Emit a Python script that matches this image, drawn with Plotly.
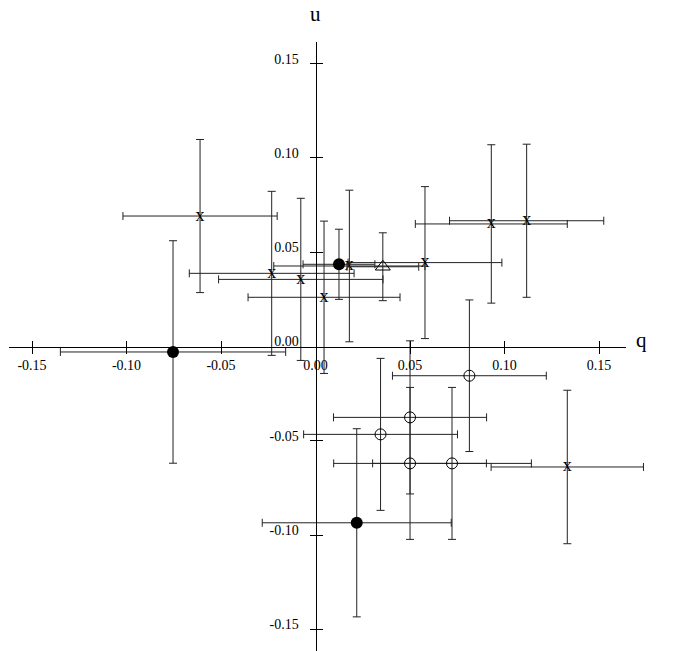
import plotly.graph_objects as go

# ---- data (q, u, error q, error u) ----
x_q  = [-0.0611, -0.0232, -0.0078, 0.0045, 0.0179, 0.0579, 0.0930, 0.1117, 0.1332]
x_u  = [0.0692, 0.0388, 0.0356, 0.0261, 0.0427, 0.0445, 0.0650, 0.0667, -0.0639]
x_dq = [0.0408, 0.0436, 0.0435, 0.0402, 0.0400, 0.0407, 0.0402, 0.0408, 0.0403]
x_du = [0.0406, 0.0435, 0.0430, 0.0404, 0.0402, 0.0403, 0.0420, 0.0406, 0.0407]

fc_q  = [-0.0754, 0.0124, 0.0218]
fc_u  = [-0.0029, 0.0436, -0.0935]
fc_dq = [0.0596, 0.0190, 0.0500]
fc_du = [0.0590, 0.0186, 0.0499]

oc_q  = [0.0814, 0.0500, 0.0344, 0.0500, 0.0722]
oc_u  = [-0.0155, -0.0376, -0.0466, -0.0620, -0.0620]
oc_dq = [0.0407, 0.0405, 0.0407, 0.0404, 0.0420]
oc_du = [0.0402, 0.0406, 0.0403, 0.0403, 0.0403]

tr_q  = [0.0356]
tr_u  = [0.0423]
tr_dq = [0.0190]
tr_du = [0.0180]

tick_vals = [-0.15, -0.10, -0.05, 0.0, 0.05, 0.10, 0.15]
tick_text = ["-0.15", "-0.10", "-0.05", "0.00", "0.05", "0.10", "0.15"]
mark_vals = [v for v in tick_vals if v != 0.0]   # tick marks (none at the origin)

W, H = 673, 651
FONT = "Liberation Serif"
LC = "black"
EC = "#222222"

# visible axis geometry (pixels -> paper fractions)
x_range = [-0.1624, 0.1640]
y_range = [-0.1615, 0.1615]
x_px = [8.6, 625.5]
x_dom = [x_px[0] / W, x_px[1] / W]
y_dom = [0.0, (H - 42) / H]
xpos = x_dom[0] + (0 - x_range[0]) / (x_range[1] - x_range[0]) * (x_dom[1] - x_dom[0])
ypos = y_dom[0] + (0 - y_range[0]) / (y_range[1] - y_range[0]) * (y_dom[1] - y_dom[0])

# data axis: same scale, wider area so long error bars are not clipped at the axis end
scale = (x_px[1] - x_px[0]) / (x_range[1] - x_range[0])
data_right_px = 668.0
data_x_range = [x_range[0], x_range[0] + (data_right_px - x_px[0]) / scale]
data_x_dom = [x_px[0] / W, data_right_px / W]


def eb(arr):
    return dict(type="data", array=arr, visible=True, color=EC, thickness=1, width=4)


fig = go.Figure()
fig.add_trace(go.Scatter(x=x_q, y=x_u, error_x=eb(x_dq), error_y=eb(x_du), mode="text",
                         text=["x"] * len(x_q), textposition="middle center", cliponaxis=False,
                         textfont=dict(family=FONT, size=18, color="black")))
fig.add_trace(go.Scatter(x=fc_q, y=fc_u, error_x=eb(fc_dq), error_y=eb(fc_du), mode="markers",
                         cliponaxis=False,
                         marker=dict(symbol="circle", size=12, color="black")))
fig.add_trace(go.Scatter(x=oc_q, y=oc_u, error_x=eb(oc_dq), error_y=eb(oc_du), mode="markers",
                         cliponaxis=False,
                         marker=dict(symbol="circle-open", size=11, color="black",
                                     line=dict(width=1, color="black"))))
fig.add_trace(go.Scatter(x=tr_q, y=tr_u, error_x=eb(tr_dq), error_y=eb(tr_du), mode="markers",
                         cliponaxis=False,
                         marker=dict(symbol="triangle-up-open", size=13, color="black",
                                     line=dict(width=1, color="black"))))
# invisible traces so the displayed axes are drawn
for xa, ya in (("x2", "y2"), ("x3", "y3"), ("x4", "y4")):
    fig.add_trace(go.Scatter(x=[0], y=[0], xaxis=xa, yaxis=ya, mode="markers",
                             marker=dict(opacity=0), hoverinfo="skip"))

label_common = dict(showgrid=False, zeroline=False, tickvals=tick_vals, ticktext=tick_text,
                    tickfont=dict(family=FONT, size=14, color="black"),
                    ticks="outside", ticklen=6, tickcolor="rgba(0,0,0,0)", tickwidth=1)


def mark_axis(side_ticks):
    return dict(showline=False, ticks=side_ticks, showticklabels=False, showgrid=False,
                zeroline=False, tickvals=mark_vals, tickcolor=LC, tickwidth=1, ticklen=6)


fig.update_layout(
    width=W, height=H, margin=dict(l=0, r=0, t=0, b=0),
    paper_bgcolor="white", plot_bgcolor="rgba(0,0,0,0)", showlegend=False,
    # data axes (hidden)
    xaxis=dict(domain=data_x_dom, range=data_x_range, visible=False, anchor="y"),
    yaxis=dict(domain=y_dom, range=y_range, visible=False, anchor="x"),
    # displayed axes crossing at the origin (line + labels)
    xaxis2=dict(domain=x_dom, range=x_range, anchor="free", position=ypos,
                showline=True, linecolor=LC, linewidth=1,
                ticklabelstandoff=0, **label_common),
    yaxis2=dict(domain=y_dom, range=y_range, anchor="free", position=xpos,
                showline=True, linecolor=LC, linewidth=1,
                ticklabelstandoff=8, ticklabelshift=-5, **label_common),
    # tick marks crossing the axes
    xaxis3=dict(overlaying="x2", range=x_range, anchor="free", position=ypos, **mark_axis("inside")),
    yaxis3=dict(overlaying="y2", range=y_range, anchor="free", position=xpos, **mark_axis("inside")),
    xaxis4=dict(overlaying="x2", range=x_range, anchor="free", position=ypos, **mark_axis("outside")),
    yaxis4=dict(overlaying="y2", range=y_range, anchor="free", position=xpos, **mark_axis("outside")),
    annotations=[
        dict(text="u", xref="paper", yref="paper", x=xpos, y=(H - 14) / H,
             showarrow=False, font=dict(family=FONT, size=21, color="black"),
             xanchor="center", yanchor="middle"),
        dict(text="q", xref="paper", yref="paper", x=641 / W, y=ypos + 7 / H,
             showarrow=False, font=dict(family=FONT, size=21, color="black"),
             xanchor="center", yanchor="middle"),
    ],
)

fig.write_html("out.html")
